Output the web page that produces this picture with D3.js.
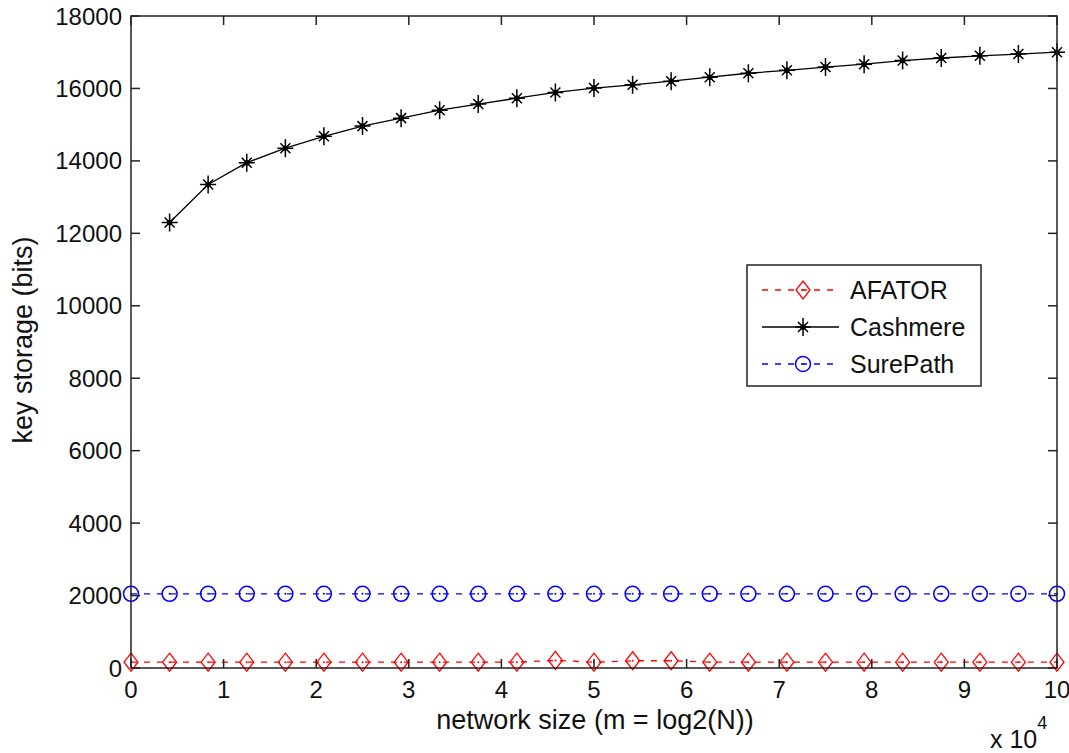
<!DOCTYPE html>
<html>
<head>
<meta charset="utf-8">
<script src="https://cdn.jsdelivr.net/npm/d3@7"></script>
<style>
  body { margin: 0; background: #fff; }
  svg { font-family: "Liberation Sans", Arial, sans-serif; }
</style>
</head>
<body>
<svg width="1069" height="753"></svg>
<script>
// --- Data (x in units of 10^4) ---
const xValues = [0, 0.417, 0.833, 1.25, 1.667, 2.083, 2.5, 2.917, 3.333, 3.75, 4.167, 4.583,
  5, 5.417, 5.833, 6.25, 6.667, 7.083, 7.5, 7.917, 8.333, 8.75, 9.167, 9.583, 10];
const afator = [160, 160, 160, 160, 160, 160, 160, 160, 160, 160, 160, 210,
  160, 200, 200, 160, 160, 160, 160, 160, 160, 160, 160, 160, 160];
// Cashmere has no point at x = 0
const cashmere = [null, 12300, 13350, 13950, 14350, 14680, 14960, 15180, 15400, 15570, 15730, 15890,
  16010, 16100, 16200, 16310, 16420, 16500, 16590, 16670, 16770, 16840, 16900, 16950, 17000];
const surepath = [2048, 2048, 2048, 2048, 2048, 2048, 2048, 2048, 2048, 2048, 2048, 2048,
  2048, 2048, 2048, 2048, 2048, 2048, 2048, 2048, 2048, 2048, 2048, 2048, 2048];
const xTicks = [0, 1, 2, 3, 4, 5, 6, 7, 8, 9, 10];
const yTicks = [0, 2000, 4000, 6000, 8000, 10000, 12000, 14000, 16000, 18000];
const seriesNames = ['AFATOR', 'Cashmere', 'SurePath'];

const svg = d3.select('svg');
const margin = { left: 131, top: 16, right: 12, bottom: 85 };
const W = 1069 - margin.left - margin.right;
const H = 753 - margin.top - margin.bottom;

const x = d3.scaleLinear().domain([0, 10]).range([0, W]);
const y = d3.scaleLinear().domain([0, 18000]).range([H, 0]);

const g = svg.append('g').attr('transform', `translate(${margin.left},${margin.top})`);

// --- Markers ---
function diamond(sel) {
  sel.append('path')
    .attr('d', 'M0,-9 L7,0 L0,9 L-7,0 Z')
    .attr('fill', 'none').attr('stroke', 'red').attr('stroke-width', 1.3);
  sel.append('circle').attr('r', 1).attr('fill', 'red');
}
function circleMark(sel) {
  sel.append('circle').attr('r', 7.5)
    .attr('fill', 'none').attr('stroke', 'blue').attr('stroke-width', 1.5);
  sel.append('circle').attr('r', 1).attr('fill', 'blue');
}
function star(sel) {
  sel.append('path')
    .attr('d', 'M0,-9 V9 M-8,0 H8 M-5,-5 L5,5 M-5,5 L5,-5')
    .attr('stroke', '#000').attr('stroke-width', 1.5).attr('fill', 'none');
  sel.append('circle').attr('r', 2.8).attr('fill', '#000');
}

const series = [
  { name: 'AFATOR', values: afator, color: 'red', dash: '6,7', marker: diamond },
  { name: 'Cashmere', values: cashmere, color: '#000', dash: null, marker: star },
  { name: 'SurePath', values: surepath, color: 'blue', dash: '6,7', marker: circleMark }
];

const line = d3.line()
  .defined(d => d[1] != null)
  .x(d => x(d[0]))
  .y(d => y(d[1]));

series.forEach(s => {
  const pts = xValues.map((xv, i) => [xv, s.values[i]]);
  g.append('path')
    .datum(pts)
    .attr('d', line)
    .attr('fill', 'none')
    .attr('stroke', s.color)
    .attr('stroke-width', 1.3)
    .attr('stroke-dasharray', s.dash);
  pts.filter(p => p[1] != null).forEach(p => {
    g.append('g')
      .attr('transform', `translate(${x(p[0])},${y(p[1])})`)
      .call(s.marker);
  });
});

// --- Axes box and ticks (MATLAB style, inward) ---
const tickLen = 9;
const axisColor = '#222';
g.append('rect')
  .attr('width', W).attr('height', H)
  .attr('fill', 'none').attr('stroke', axisColor).attr('stroke-width', 1.5);

xTicks.forEach(t => {
  g.append('line').attr('x1', x(t)).attr('x2', x(t)).attr('y1', H).attr('y2', H - tickLen)
    .attr('stroke', axisColor).attr('stroke-width', 1.5);
  g.append('line').attr('x1', x(t)).attr('x2', x(t)).attr('y1', 0).attr('y2', tickLen)
    .attr('stroke', axisColor).attr('stroke-width', 1.5);
  g.append('text')
    .attr('x', x(t)).attr('y', H + 30)
    .attr('text-anchor', 'middle')
    .attr('font-size', 24).attr('fill', '#111')
    .text(t);
});

yTicks.forEach(t => {
  g.append('line').attr('x1', 0).attr('x2', tickLen).attr('y1', y(t)).attr('y2', y(t))
    .attr('stroke', axisColor).attr('stroke-width', 1.5);
  g.append('line').attr('x1', W).attr('x2', W - tickLen).attr('y1', y(t)).attr('y2', y(t))
    .attr('stroke', axisColor).attr('stroke-width', 1.5);
  g.append('text')
    .attr('x', -9).attr('y', y(t) + 8.5)
    .attr('text-anchor', 'end')
    .attr('font-size', 24).attr('fill', '#111')
    .text(t);
});

// --- Axis titles ---
g.append('text')
  .attr('x', W / 2 + 1).attr('y', H + 61)
  .attr('text-anchor', 'middle')
  .attr('font-size', 27).attr('fill', '#111')
  .text('network size (m = log2(N))');

svg.append('text')
  .attr('transform', 'translate(32,340) rotate(-90)')
  .attr('text-anchor', 'middle')
  .attr('font-size', 27).attr('fill', '#111')
  .text('key storage (bits)');

// exponent label
const expo = svg.append('text')
  .attr('x', 990).attr('y', 748)
  .attr('font-size', 25).attr('fill', '#111');
expo.append('tspan').text('x 10');
expo.append('tspan').attr('dy', -19).attr('font-size', 18).text('4');

// --- Legend ---
const legend = svg.append('g').attr('transform', 'translate(747,265)');
legend.append('rect')
  .attr('width', 234).attr('height', 121)
  .attr('fill', '#fff').attr('stroke', axisColor).attr('stroke-width', 1.5);

series.forEach((s, i) => {
  const ly = 25 + i * 37;
  legend.append('line')
    .attr('x1', 15).attr('x2', 92).attr('y1', ly).attr('y2', ly)
    .attr('stroke', s.color).attr('stroke-width', 1.3)
    .attr('stroke-dasharray', s.dash);
  legend.append('g').attr('transform', `translate(56,${ly})`).call(s.marker);
  legend.append('text')
    .attr('x', 103).attr('y', ly + 9)
    .attr('font-size', 25).attr('fill', '#111')
    .text(seriesNames[i]);
});
</script>
</body>
</html>
